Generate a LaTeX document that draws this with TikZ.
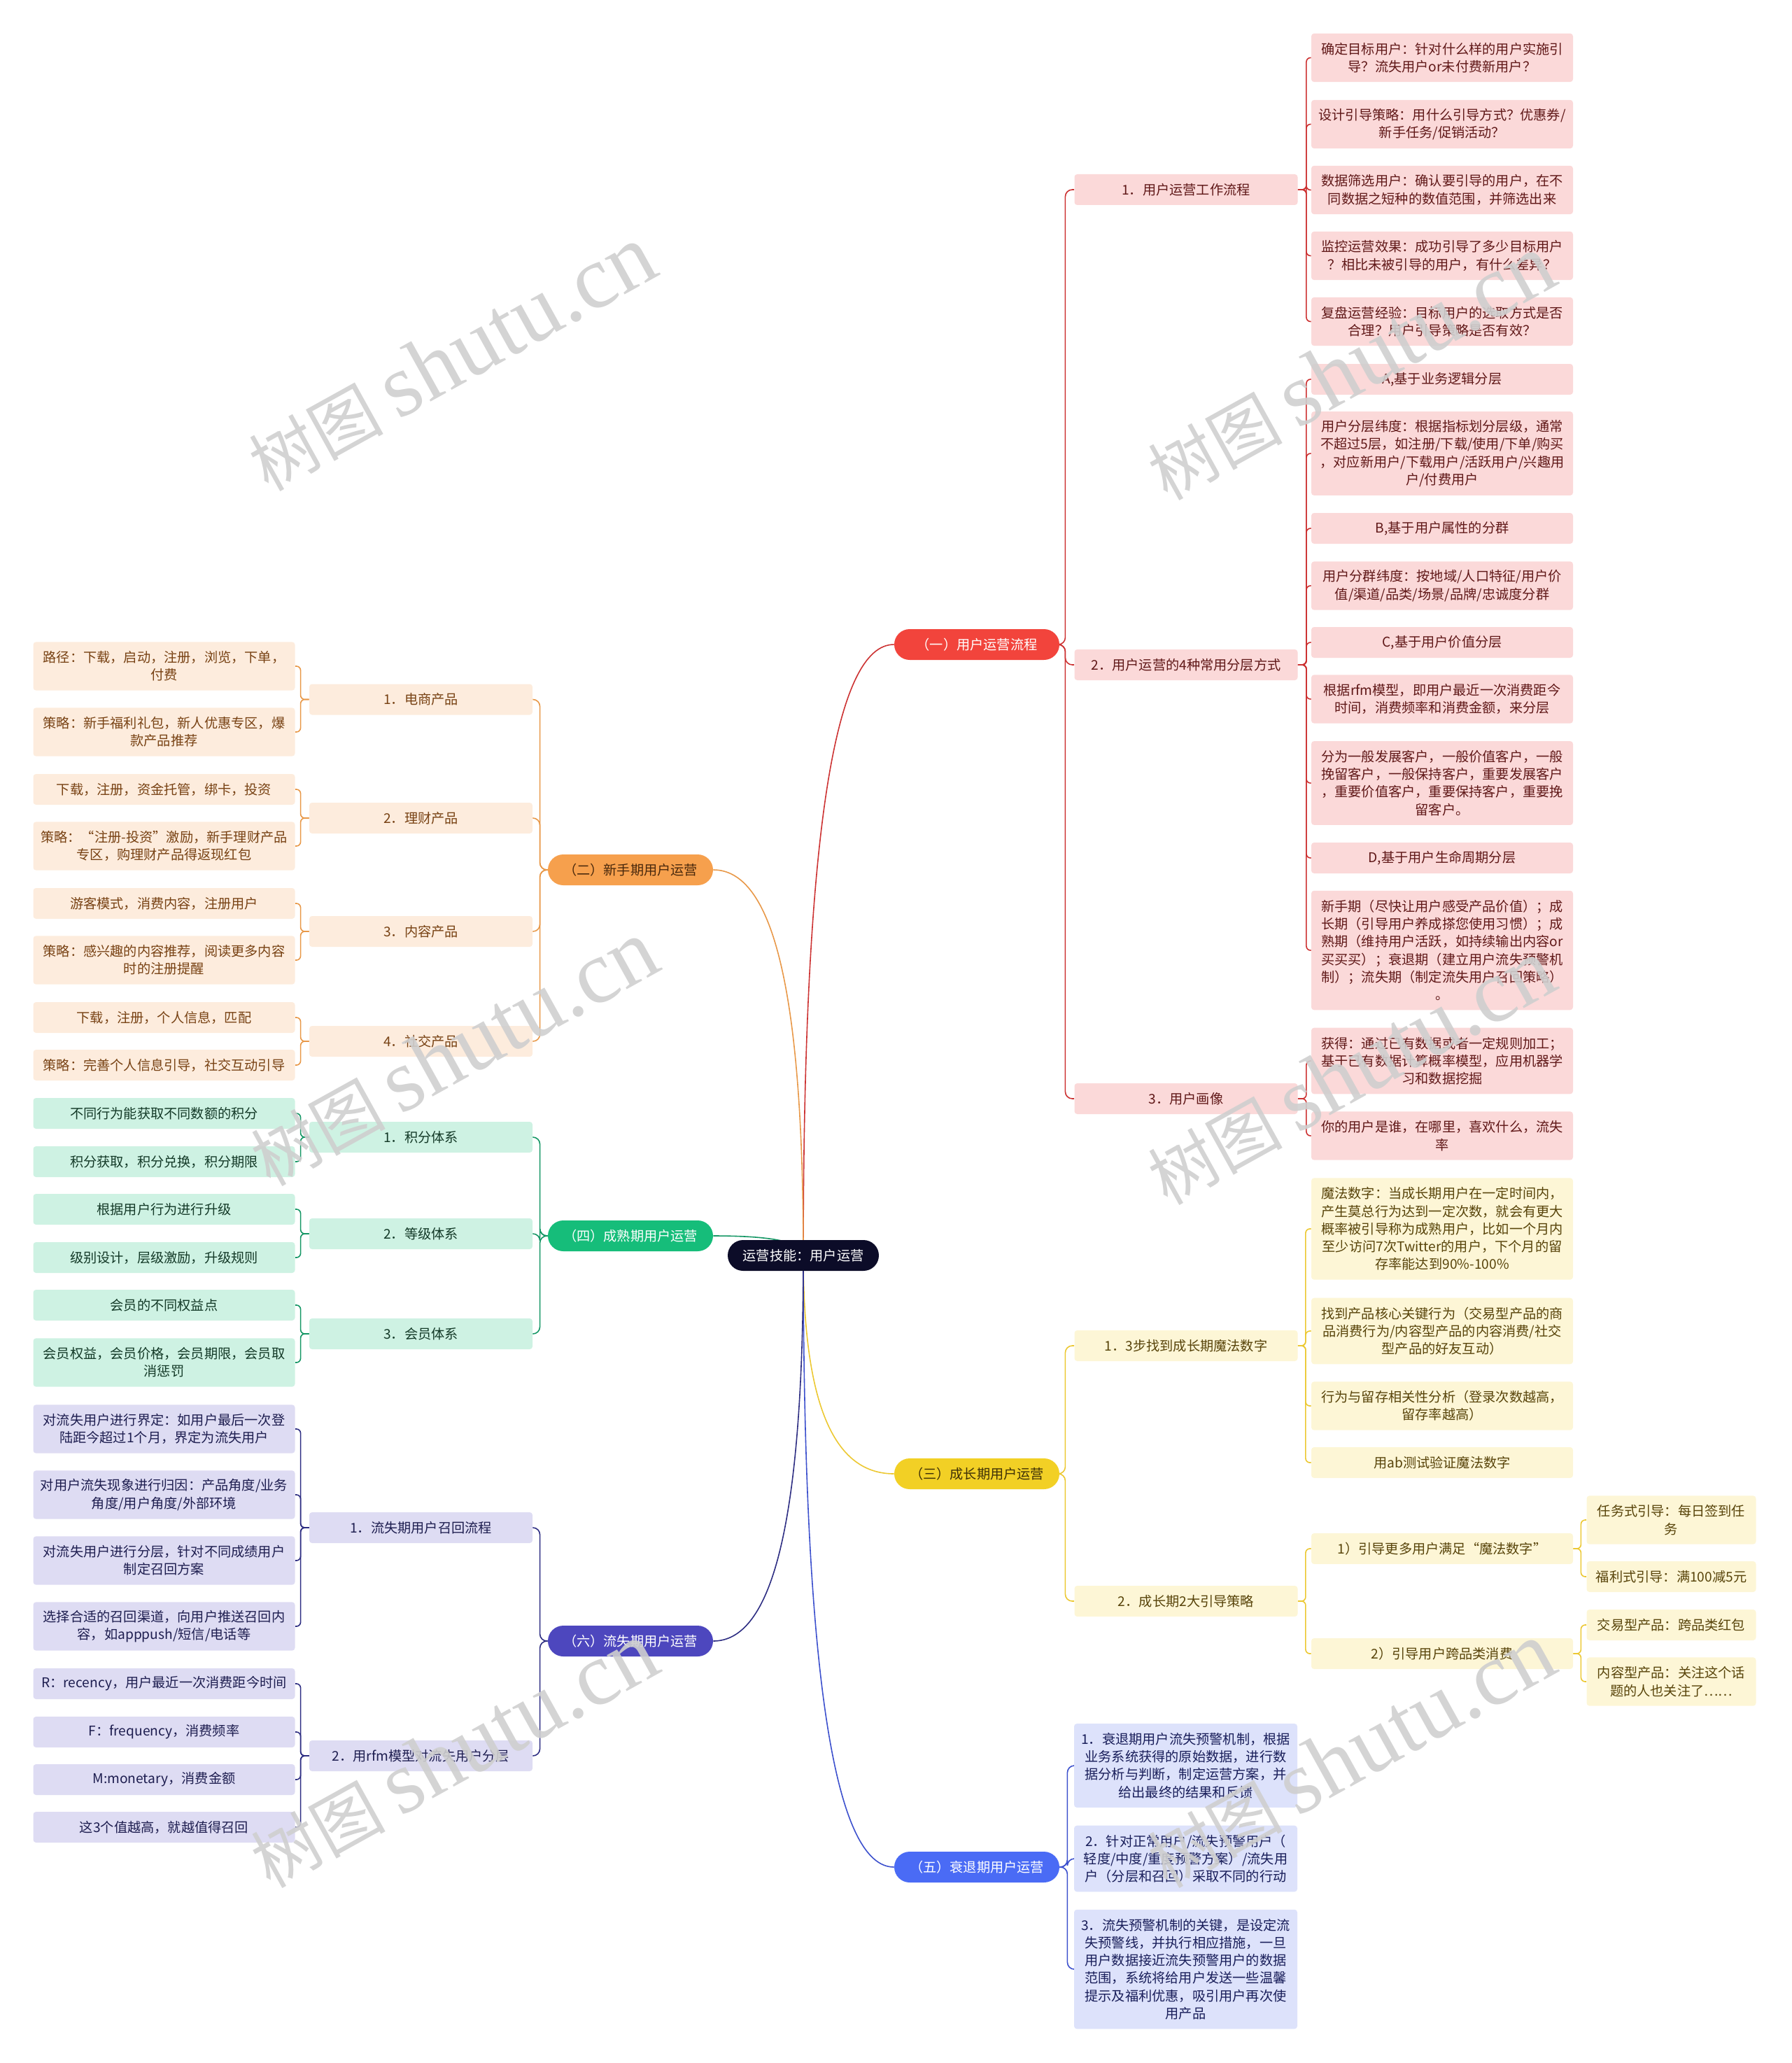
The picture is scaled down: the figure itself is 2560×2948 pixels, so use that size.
\documentclass[tikz,border=0pt]{standalone}
\usepackage{fontspec}
\setmainfont{Noto Sans CJK SC}
\newfontfamily\wmlatin{Liberation Serif}
\usetikzlibrary{backgrounds}
\definecolor{rootnavy}{RGB}{12,12,40}
% branch colours: pill, line, box fill, box text
\definecolor{flowpill}{RGB}{242,68,60}
\definecolor{flowline}{RGB}{204,50,50}
\definecolor{flowfill}{RGB}{251,217,217}
\definecolor{flowtext}{RGB}{96,24,24}
\definecolor{newpill}{RGB}{246,160,77}
\definecolor{newline}{RGB}{232,152,72}
\definecolor{newfill}{RGB}{253,236,221}
\definecolor{newtext}{RGB}{120,66,20}
\definecolor{growpill}{RGB}{242,208,37}
\definecolor{growline}{RGB}{236,200,50}
\definecolor{growfill}{RGB}{253,246,214}
\definecolor{growtext}{RGB}{88,68,10}
\definecolor{matpill}{RGB}{22,189,122}
\definecolor{matline}{RGB}{20,150,100}
\definecolor{matfill}{RGB}{206,242,227}
\definecolor{mattext}{RGB}{20,58,40}
\definecolor{decpill}{RGB}{74,107,245}
\definecolor{decline}{RGB}{60,80,205}
\definecolor{decfill}{RGB}{221,226,251}
\definecolor{dectext}{RGB}{25,30,90}
\definecolor{churnpill}{RGB}{77,71,190}
\definecolor{churnline}{RGB}{45,45,130}
\definecolor{churnfill}{RGB}{222,220,243}
\definecolor{churntext}{RGB}{30,30,80}

\begin{document}
\begin{tikzpicture}[
  x=0.5pt, y=-0.5pt,
  font=\fontsize{9.6}{12.65}\selectfont,
  box/.style={rounded corners=2pt, align=center, inner xsep=4pt,
              inner ysep=2pt, minimum height=22pt},
  nl/.style={minimum height={22pt+(#1-1)*12.65pt}},
  pill/.style={box, rounded corners=11pt, minimum width=118pt},
  sub/.style={box, minimum width=159.5pt},
  leaf/.style={box, minimum width=187pt},
  tip/.style={box, minimum width=121pt},
  fl/.style={fill=flowfill, text=flowtext},
  nw/.style={fill=newfill, text=newtext},
  gr/.style={fill=growfill, text=growtext},
  mt/.style={fill=matfill, text=mattext},
  dc/.style={fill=decfill, text=dectext},
  ch/.style={fill=churnfill, text=churntext},
  trunk/.style={line width=0.8pt},
  link/.style={line width=0.8pt, rounded corners=3pt},
  wm/.style={rotate=29, text=black!19, opacity=0.9,
             font=\fontsize{48}{48}\selectfont}]

\useasboundingbox (0,0) rectangle (2560,2948);

% ---------- centre and main branches ----------
\node[pill, minimum width=108pt, fill=rootnavy, text=white] (root) at (1148,1794) {运营技能：用户运营};
\node[pill, fill=flowpill, text=white] (opflow) at (1396,921) {（一）用户运营流程};
\node[pill, fill=newpill, text=newtext!60!black] (newbie) at (901,1243) {（二）新手期用户运营};
\node[pill, fill=growpill, text=growtext!70!black] (growth) at (1396,2106) {（三）成长期用户运营};
\node[pill, fill=matpill, text=white] (mature) at (901,1766) {（四）成熟期用户运营};
\node[pill, fill=decpill, text=white] (decl) at (1396,2668) {（五）衰退期用户运营};
\node[pill, fill=churnpill, text=white] (churn) at (901,2345) {（六）流失期用户运营};

% ---------- (一) user operation flow ----------
\node[sub, fl] (flow1) at (1695,271) {1．用户运营工作流程};
\node[sub, fl] (flow2) at (1695,950) {2．用户运营的4种常用分层方式};
\node[sub, fl] (flow3) at (1695,1570) {3．用户画像};

\node[leaf, fl, nl=2] (fa1) at (2061,82.5) {确定目标用户：针对什么样的用户实施引\\导？流失用户or未付费新用户？};
\node[leaf, fl, nl=2] (fa2) at (2061,177.5) {设计引导策略：用什么引导方式？优惠券/\\新手任务/促销活动？};
\node[leaf, fl, nl=2] (fa3) at (2061,271.5) {数据筛选用户：确认要引导的用户，在不\\同数据之短种的数值范围，并筛选出来};
\node[leaf, fl, nl=2] (fa4) at (2061,365.5) {监控运营效果：成功引导了多少目标用户\\？相比未被引导的用户，有什么差异？};
\node[leaf, fl, nl=2] (fa5) at (2061,459.5) {复盘运营经验：目标用户的选取方式是否\\合理？用户引导策略是否有效？};

\node[leaf, fl] (fb1) at (2061,542) {A,基于业务逻辑分层};
\node[leaf, fl, nl=4] (fb2) at (2061,648) {用户分层纬度：根据指标划分层级，通常\\不超过5层，如注册/下载/使用/下单/购买\\，对应新用户/下载用户/活跃用户/兴趣用\\户/付费用户};
\node[leaf, fl] (fb3) at (2061,755) {B,基于用户属性的分群};
\node[leaf, fl, nl=2] (fb4) at (2061,837) {用户分群纬度：按地域/人口特征/用户价\\值/渠道/品类/场景/品牌/忠诚度分群};
\node[leaf, fl] (fb5) at (2061,918) {C,基于用户价值分层};
\node[leaf, fl, nl=2] (fb6) at (2061,999) {根据rfm模型，即用户最近一次消费距今\\时间，消费频率和消费金额，来分层};
\node[leaf, fl, nl=4] (fb7) at (2061,1119) {分为一般发展客户，一般价值客户，一般\\挽留客户，一般保持客户，重要发展客户\\，重要价值客户，重要保持客户，重要挽\\留客户。};
\node[leaf, fl] (fb8) at (2061,1226) {D,基于用户生命周期分层};
\node[leaf, fl, nl=6] (fb9) at (2061,1358) {新手期（尽快让用户感受产品价值）；成\\长期（引导用户养成搽您使用习惯）；成\\熟期（维持用户活跃，如持续输出内容or\\买买买）；衰退期（建立用户流失预警机\\制）；流失期（制定流失用户召回策略）\\。};

\node[leaf, fl, nl=3] (fc1) at (2061,1516) {获得：通过已有数据或者一定规则加工；\\基于已有数据计算概率模型，应用机器学\\习和数据挖掘};
\node[leaf, fl, nl=2] (fc2) at (2061,1623) {你的用户是谁，在哪里，喜欢什么，流失\\率};

% ---------- (二) newcomers ----------
\node[sub, nw] (nw1) at (601.5,999.5) {1．电商产品};
\node[sub, nw] (nw2) at (601.5,1169) {2．理财产品};
\node[sub, nw] (nw3) at (601.5,1331) {3．内容产品};
\node[sub, nw] (nw4) at (601.5,1488) {4．社交产品};

\node[leaf, nw, nl=2] (na1) at (234.5,952) {路径：下载，启动，注册，浏览，下单，\\付费};
\node[leaf, nw, nl=2] (na2) at (234.5,1046) {策略：新手福利礼包，新人优惠专区，爆\\款产品推荐};
\node[leaf, nw] (nb1) at (234.5,1128) {下载，注册，资金托管，绑卡，投资};
\node[leaf, nw, nl=2] (nb2) at (234.5,1209) {策略：“注册-投资”激励，新手理财产品\\专区，购理财产品得返现红包};
\node[leaf, nw] (nc1) at (234.5,1291) {游客模式，消费内容，注册用户};
\node[leaf, nw, nl=2] (nc2) at (234.5,1372) {策略：感兴趣的内容推荐，阅读更多内容\\时的注册提醒};
\node[leaf, nw] (nd1) at (234.5,1454) {下载，注册，个人信息，匹配};
\node[leaf, nw] (nd2) at (234.5,1522) {策略：完善个人信息引导，社交互动引导};

% ---------- (四) mature users ----------
\node[sub, mt] (mt1) at (601.5,1625) {1．积分体系};
\node[sub, mt] (mt2) at (601.5,1763) {2．等级体系};
\node[sub, mt] (mt3) at (601.5,1906) {3．会员体系};

\node[leaf, mt] (ma1) at (234.5,1591) {不同行为能获取不同数额的积分};
\node[leaf, mt] (ma2) at (234.5,1660) {积分获取，积分兑换，积分期限};
\node[leaf, mt] (mb1) at (234.5,1728) {根据用户行为进行升级};
\node[leaf, mt] (mb2) at (234.5,1797) {级别设计，层级激励，升级规则};
\node[leaf, mt] (mc1) at (234.5,1865) {会员的不同权益点};
\node[leaf, mt, nl=2] (mc2) at (234.5,1947) {会员权益，会员价格，会员期限，会员取\\消惩罚};

% ---------- (六) churned users ----------
\node[sub, ch] (ch1) at (601.5,2183) {1．流失期用户召回流程};
\node[sub, ch] (ch2) at (601.5,2509) {2．用rfm模型对流失用户分层};

\node[leaf, ch, nl=2] (ca1) at (234.5,2042) {对流失用户进行界定：如用户最后一次登\\陆距今超过1个月，界定为流失用户};
\node[leaf, ch, nl=2] (ca2) at (234.5,2136) {对用户流失现象进行归因：产品角度/业务\\角度/用户角度/外部环境};
\node[leaf, ch, nl=2] (ca3) at (234.5,2230) {对流失用户进行分层，针对不同成绩用户\\制定召回方案};
\node[leaf, ch, nl=2] (ca4) at (234.5,2324) {选择合适的召回渠道，向用户推送召回内\\容，如apppush/短信/电话等};
\node[leaf, ch] (cb1) at (234.5,2406) {R：recency，用户最近一次消费距今时间};
\node[leaf, ch] (cb2) at (234.5,2475) {F：frequency，消费频率};
\node[leaf, ch] (cb3) at (234.5,2543) {M:monetary，消费金额};
\node[leaf, ch] (cb4) at (234.5,2611) {这3个值越高，就越值得召回};

% ---------- (三) growth ----------
\node[sub, gr] (gw1) at (1695,1923) {1．3步找到成长期魔法数字};
\node[sub, gr] (gw2) at (1695,2288) {2．成长期2大引导策略};

\node[leaf, gr, nl=5] (ga1) at (2061,1756) {魔法数字：当成长期用户在一定时间内，\\产生莫总行为达到一定次数，就会有更大\\概率被引导称为成熟用户，比如一个月内\\至少访问7次Twitter的用户，下个月的留\\存率能达到90\%-100\%};
\node[leaf, gr, nl=3] (ga2) at (2061,1902) {找到产品核心关键行为（交易型产品的商\\品消费行为/内容型产品的内容消费/社交\\型产品的好友互动）};
\node[leaf, gr, nl=2] (ga3) at (2061,2009) {行为与留存相关性分析（登录次数越高，\\留存率越高）};
\node[leaf, gr] (ga4) at (2061,2090) {用ab测试验证魔法数字};
\node[leaf, gr] (gb1) at (2061,2213) {1）引导更多用户满足“魔法数字”};
\node[leaf, gr] (gb2) at (2061,2363) {2）引导用户跨品类消费};

\node[tip, gr, nl=2] (gt1) at (2388.5,2172) {任务式引导：每日签到任\\务};
\node[tip, gr] (gt2) at (2388.5,2253) {福利式引导：满100减5元};
\node[tip, gr] (gt3) at (2388.5,2322) {交易型产品：跨品类红包};
\node[tip, gr, nl=2] (gt4) at (2388.5,2403) {内容型产品：关注这个话\\题的人也关注了……};

% ---------- (五) decline ----------
\node[sub, dc, nl=4] (da1) at (1694.5,2523) {1．衰退期用户流失预警机制，根据\\业务系统获得的原始数据，进行数\\据分析与判断，制定运营方案，并\\给出最终的结果和反馈};
\node[sub, dc, nl=3] (da2) at (1694.5,2656) {2．针对正常用户/流失预警用户（\\轻度/中度/重度预警方案）/流失用\\户（分层和召回）采取不同的行动};
\node[sub, dc, nl=6] (da3) at (1694.5,2814) {3．流失预警机制的关键，是设定流\\失预警线，并执行相应措施，一旦\\用户数据接近流失预警用户的数据\\范围，系统将给用户发送一些温馨\\提示及福利优惠，吸引用户再次使\\用产品};

% ---------- connectors ----------
\begin{scope}[on background layer]
\draw[trunk, flowline] (root.center) .. controls +(0,-620) and +(-82,0) .. (opflow.west);
\draw[trunk, growline] (root.center) .. controls +(0,222) and +(-82,0) .. (growth.west);
\draw[trunk, decline] (root.center) .. controls +(0,620) and +(-82,0) .. (decl.west);
\draw[trunk, newline] (root.center) .. controls +(0,-391) and +(82,0) .. (newbie.east);
\draw[trunk, matline] (root.center) .. controls +(0,-20) and +(82,0) .. (mature.east);
\draw[trunk, churnline] (root.center) .. controls +(0,391) and +(82,0) .. (churn.east);

% right side: parent.east -> child.west
\foreach \p/\c in {opflow/flow1, opflow/flow2, opflow/flow3}
  \draw[link, flowline, rounded corners=5pt] (\p.east) -- ++(8,0) |- (\c.west);
\foreach \p/\c in {flow1/fa1, flow1/fa2, flow1/fa3, flow1/fa4, flow1/fa5,
                   flow2/fb1, flow2/fb2, flow2/fb3, flow2/fb4, flow2/fb5,
                   flow2/fb6, flow2/fb7, flow2/fb8, flow2/fb9,
                   flow3/fc1, flow3/fc2}
  \draw[link, flowline] (\p.east) -- ++(12,0) |- (\c.west);
\foreach \p/\c in {growth/gw1, growth/gw2}
  \draw[link, growline, rounded corners=5pt] (\p.east) -- ++(8,0) |- (\c.west);
\foreach \p/\c in {gw1/ga1, gw1/ga2, gw1/ga3, gw1/ga4, gw2/gb1, gw2/gb2,
                   gb1/gt1, gb1/gt2, gb2/gt3, gb2/gt4}
  \draw[link, growline] (\p.east) -- ++(11,0) |- (\c.west);
\foreach \c in {da1, da2, da3}
  \draw[link, decline, rounded corners=5pt] (decl.east) -- ++(11,0) |- (\c.west);

% left side: parent.west -> child.east
\foreach \p/\c/\col in {newbie/nw1/newline, newbie/nw2/newline,
                        newbie/nw3/newline, newbie/nw4/newline,
                        mature/mt1/matline, mature/mt2/matline,
                        mature/mt3/matline,
                        churn/ch1/churnline, churn/ch2/churnline}
  \draw[link, rounded corners=5pt, draw=\col] (\p.west) -- ++(-11,0) |- (\c.east);
\foreach \p/\c in {nw1/na1, nw1/na2, nw2/nb1, nw2/nb2, nw3/nc1, nw3/nc2,
                   nw4/nd1, nw4/nd2}
  \draw[link, newline] (\p.west) -- ++(-12,0) |- (\c.east);
\foreach \p/\c in {mt1/ma1, mt1/ma2, mt2/mb1, mt2/mb2, mt3/mc1, mt3/mc2}
  \draw[link, matline] (\p.west) -- ++(-12,0) |- (\c.east);
\foreach \p/\c in {ch1/ca1, ch1/ca2, ch1/ca3, ch1/ca4,
                   ch2/cb1, ch2/cb2, ch2/cb3, ch2/cb4}
  \draw[link, churnline] (\p.west) -- ++(-12,0) |- (\c.east);
\end{scope}

% ---------- watermark ----------
\node[wm] (wm1) at (645,512) {树图 {\wmlatin\fontsize{64}{64}\selectfont shutu.cn}};
\node[wm] (wm2) at (1930,525) {树图 {\wmlatin\fontsize{64}{64}\selectfont shutu.cn}};
\node[wm] (wm3) at (648,1505) {树图 {\wmlatin\fontsize{64}{64}\selectfont shutu.cn}};
\node[wm] (wm4) at (1930,1532) {树图 {\wmlatin\fontsize{64}{64}\selectfont shutu.cn}};
\node[wm] (wm5) at (648,2508) {树图 {\wmlatin\fontsize{64}{64}\selectfont shutu.cn}};
\node[wm] (wm6) at (1930,2508) {树图 {\wmlatin\fontsize{64}{64}\selectfont shutu.cn}};
\end{tikzpicture}
\end{document}
